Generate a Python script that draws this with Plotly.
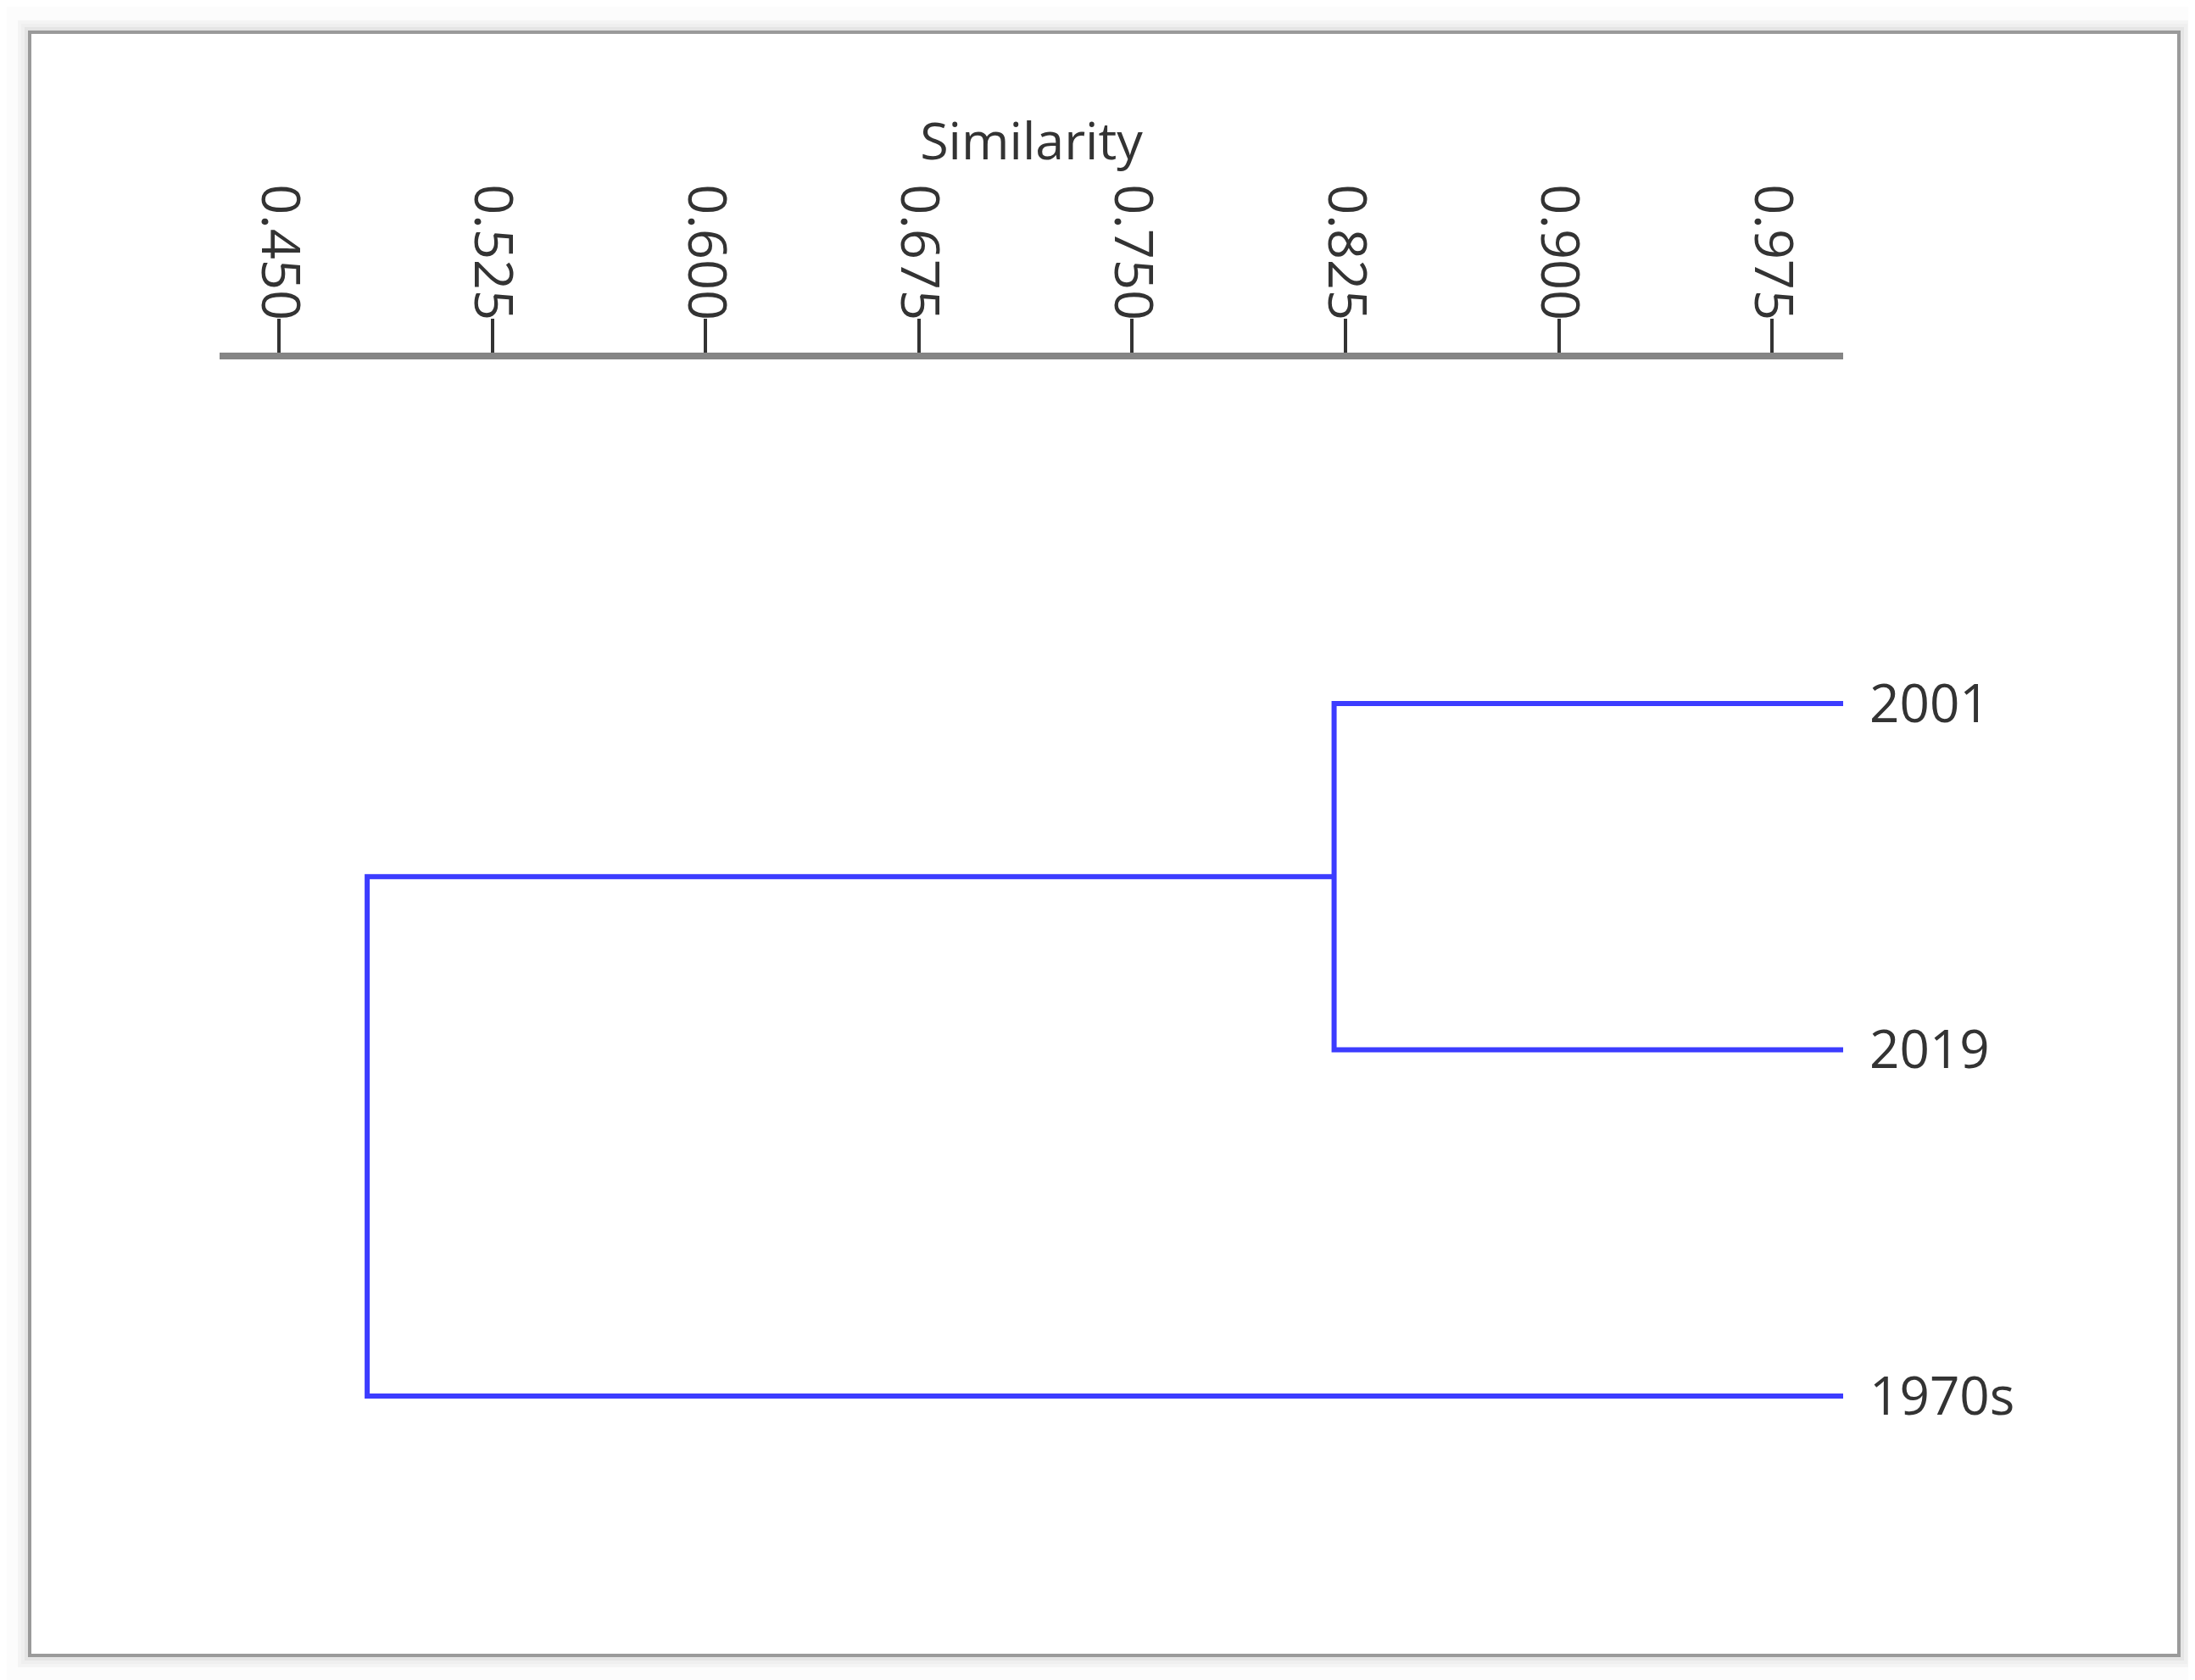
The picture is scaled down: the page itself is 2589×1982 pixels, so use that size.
import plotly.graph_objects as go

# leaves of the dendrogram, top to bottom
leaves = ["2001", "2019", "1970s"]

# merges: children are leaf indices (0..n-1) or earlier merges (n, n+1, ...)
merge_left = [0, 3]
merge_right = [1, 2]
merge_similarity = [0.821, 0.481]

tick_values = [0.450, 0.525, 0.600, 0.675, 0.750, 0.825, 0.900, 0.975]

W, H = 2589, 1982
M = dict(l=251, r=423, t=416, b=182)
FONT = "Open Sans"
TEXT = "#333333"
LINE = "rgb(60,60,255)"

# node positions: x = similarity, y = leaf slot
node_x = [1.0] * len(leaves)
node_y = list(range(len(leaves)))
seg_x, seg_y = [], []
for a, b, s in zip(merge_left, merge_right, merge_similarity):
    seg_x += [node_x[a], s, s, node_x[b], None]
    seg_y += [node_y[a], node_y[a], node_y[b], node_y[b], None]
    node_x.append(s)
    node_y.append((node_y[a] + node_y[b]) / 2)

lo = min(merge_similarity)
x_range = [lo - 0.1 * (1 - lo), 1.0]

fig = go.Figure()
fig.add_trace(go.Scatter(
    x=seg_x, y=seg_y, mode="lines",
    line=dict(color=LINE, width=6),
    hoverinfo="skip", showlegend=False,
))

fig.update_layout(
    width=W, height=H,
    margin=M,
    paper_bgcolor="#fcfcfc",
    plot_bgcolor="white",
    font=dict(family=FONT, color=TEXT, size=60),
    showlegend=False,
    xaxis=dict(
        side="top",
        range=x_range,
        tickvals=tick_values,
        tickformat=".3f",
        tickangle=90,
        ticks="outside", ticklen=40, tickwidth=4, tickcolor="#333333",
        ticklabelstandoff=-24,
        showline=True, linecolor="#858585", linewidth=8,
        showgrid=False, zeroline=False,
        tickfont=dict(size=63),
        title=dict(text="Similarity", font=dict(size=61), standoff=12),
    ),
    yaxis=dict(
        side="right",
        range=[2.394, -0.994],
        tickvals=list(range(len(leaves))),
        ticktext=leaves,
        ticks="",
        ticklabelstandoff=30,
        showline=False, showgrid=False, zeroline=False,
        tickfont=dict(size=62),
    ),
)

# framed panel with a soft shadow, placed in paper coords
pw = W - M["l"] - M["r"]
ph = H - M["t"] - M["b"]
def px(x):
    return (x - M["l"]) / pw
def py(y):
    return (H - M["b"] - y) / ph

x0, y0, x1, y1 = 27, 30, 2562, 1945
shapes = [dict(type="rect", xref="paper", yref="paper",
               x0=px(x0), x1=px(x1), y0=py(y1), y1=py(y0),
               fillcolor="white", line=dict(width=0), layer="below")]
for k, a in [(12, 0.03), (8, 0.05), (4, 0.09)]:
    shapes.append(dict(type="rect", xref="paper", yref="paper",
                       x0=px(x0 - k), x1=px(x1 + k), y0=py(y1 + k), y1=py(y0 - k),
                       line=dict(color=f"rgba(0,0,0,{a})", width=4), layer="below"))
shapes.append(dict(type="rect", xref="paper", yref="paper",
                   x0=px(x0), x1=px(x1), y0=py(y1), y1=py(y0),
                   line=dict(color="#9a9a9a", width=4), layer="below"))
fig.update_layout(shapes=shapes)

fig.write_html("out.html")
